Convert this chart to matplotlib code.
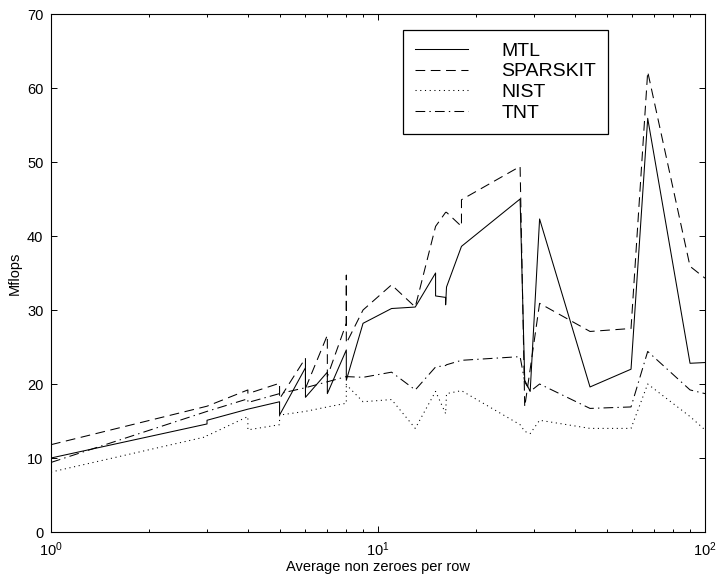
import matplotlib
matplotlib.use('Agg')
import matplotlib.pyplot as plt
from matplotlib.ticker import FixedLocator, LogLocator, NullFormatter

# ---------------- data ----------------
x_nnz = [1, 3, 3, 4, 4, 5, 5, 6, 6, 7, 7, 8, 8, 8, 9, 11, 13, 15, 15,
         16.1, 16.1, 16.2, 18, 18, 27.2, 28.1, 29.2, 31.2, 44.5, 59.4, 66.8, 90, 100]

mtl = [10.0, 14.6, 15.1, 16.6, 16.6, 17.6, 15.8, 22.2, 18.2, 21.6, 18.7, 24.6, 20.5, 20.5,
       28.2, 30.2, 30.4, 35.0, 31.9, 31.7, 30.7, 33.1, 38.6, 38.6, 45.0, 20.5, 19.0, 42.3,
       19.6, 22.0, 55.9, 22.8, 22.9]

sparskit = [11.8, 17.0, 17.0, 19.2, 18.7, 20.1, 18.0, 23.5, 19.4, 26.6, 21.0, 28.2, 34.7, 25.5,
            30.0, 33.4, 30.4, 41.3, 41.3, 43.2, 43.2, 43.2, 41.3, 44.9, 49.4, 16.9, 22.0, 30.9,
            27.1, 27.5, 62.2, 35.9, 34.3]

nist = [8.1, 12.9, 13.0, 15.6, 13.8, 14.5, 15.8, 16.3, 16.3, 16.9, 16.9, 17.4, 20.1, 19.9,
        17.6, 17.9, 14.0, 19.0, 19.0, 16.0, 16.0, 18.7, 19.1, 19.1, 14.5, 13.6, 13.3, 15.1,
        14.0, 14.0, 20.0, 15.6, 13.8]

tnt = [9.4, 16.3, 16.3, 18.0, 17.5, 18.7, 18.7, 19.5, 19.5, 20.3, 20.3, 21.0, 21.0, 21.0,
       20.9, 21.6, 19.2, 22.3, 22.3, 22.5, 22.5, 22.6, 23.2, 23.2, 23.7, 20.3, 19.0, 20.0,
       16.7, 16.9, 24.4, 19.2, 18.7]

series_labels = ['MTL', 'SPARSKIT', 'NIST', 'TNT']
y_ticks = [0, 10, 20, 30, 40, 50, 60, 70]
x_label = 'Average non zeroes per row'
y_label = 'Mflops'

# ---------------- style ----------------
plt.rcParams['font.family'] = ['Liberation Sans', 'DejaVu Sans']
plt.rcParams['mathtext.fontset'] = 'custom'
plt.rcParams['mathtext.rm'] = 'Liberation Sans'
plt.rcParams['mathtext.it'] = 'Liberation Sans:italic'
plt.rcParams['mathtext.bf'] = 'Liberation Sans:bold'
plt.rcParams['lines.scale_dashes'] = False

W, H = 717, 576
fig = plt.figure(figsize=(W / 100, H / 100), dpi=100)
ax = fig.add_axes([51 / W, 1 - 532 / H, 654 / W, 518 / H])

lw = 0.75
ax.plot(x_nnz, mtl, color='k', lw=lw, ls='-', label=series_labels[0])
ax.plot(x_nnz, sparskit, color='k', lw=lw, dashes=(7, 4), label=series_labels[1])
ax.plot(x_nnz, nist, color='k', lw=lw, dashes=(0.8, 2.6), label=series_labels[2])
ax.plot(x_nnz, tnt, color='k', lw=lw, dashes=(7, 3, 1, 3), label=series_labels[3])

ax.set_xscale('log')
ax.set_xlim(1, 100)
ax.set_ylim(0, 70)
ax.yaxis.set_major_locator(FixedLocator(y_ticks))
ax.xaxis.set_major_locator(LogLocator(base=10, numticks=10))
ax.xaxis.set_minor_locator(LogLocator(base=10, subs=range(2, 10), numticks=20))
ax.xaxis.set_minor_formatter(NullFormatter())

ax.tick_params(which='both', direction='in', top=True, right=True, colors='k',
               labelsize=10.5, width=0.7)
ax.tick_params(which='major', length=4.3)
ax.tick_params(which='minor', length=2.4)
ax.tick_params(axis='y', which='major', pad=5.5)
ax.tick_params(axis='x', which='major', pad=6)
for s in ax.spines.values():
    s.set_linewidth(0.8)
    s.set_color('k')

ax.set_xlabel(x_label, fontsize=10.5, labelpad=1)
ax.set_ylabel(y_label, fontsize=10.5, labelpad=4)

leg = ax.legend(loc='upper left', bbox_to_anchor=(0.538, 0.969), borderaxespad=0,
                fontsize=14, handlelength=2.75, handletextpad=1.7, borderpad=0.62,
                labelspacing=0.16, fancybox=False, framealpha=1, edgecolor='k')
leg.get_frame().set_linewidth(0.9)

fig.savefig('out.png', dpi=100)
